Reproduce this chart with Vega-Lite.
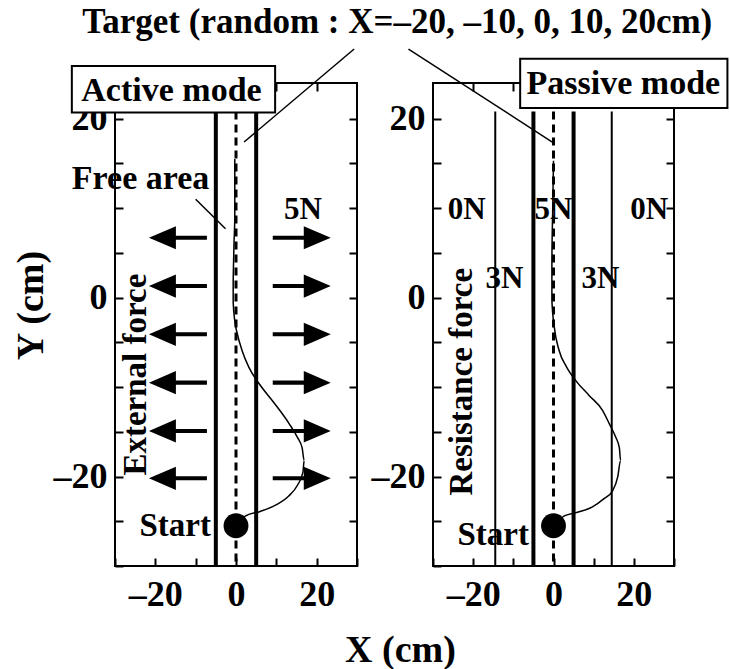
{
  "$schema": "https://vega.github.io/schema/vega-lite/v6.json",
  "autosize": "none",
  "padding": {"left": 115, "top": 83, "right": 615, "bottom": 586},
  "title": {"text": "Target (random : X=–20, –10, 0, 10, 20cm)", "font": "Liberation Serif", "fontSize": 35, "fontWeight": "bold", "color": "black", "anchor": "middle", "offset": 7, "dx": 27},
  "spacing": 76,
  "bounds": "flush",
  "config": {
    "view": {"stroke": "black", "strokeWidth": 2, "fill": null},
    "axis": {"domain": false, "grid": false, "ticks": true, "tickColor": "black", "tickWidth": 2, "tickSize": -8, "labelFont": "Liberation Serif", "labelFontWeight": "bold", "labelFontSize": 36, "labelColor": "black", "labelOverlap": false, "labelFlush": false, "titleFont": "Liberation Serif", "titleFontWeight": "bold", "titleFontSize": 38, "titleColor": "black"},
    "axisX": {"labelPadding": 19},
    "axisY": {"labelPadding": 16},
    "text": {"font": "Liberation Serif", "fontWeight": "bold", "color": "black"}
  },
  "hconcat": [
    {
      "width": 242,
      "height": 483,
      "resolve": {"axis": {"x": "independent", "y": "independent"}},
      "layer": [
        {
          "layer": [
            {
              "data": {"values": [{"x": -5, "y": 20.8, "y2": -30}, {"x": 5, "y": 20.8, "y2": -30}]},
              "mark": {"type": "rule", "strokeWidth": 4, "color": "black"},
              "encoding": {
                "x": {"field": "x", "type": "quantitative", "scale": {"domain": [-30, 30], "nice": false, "zero": false},
                  "axis": {"values": [-30, -20, -10, 0, 10, 20, 30], "labelExpr": "datum.value == -20 ? '–20' : (datum.value == 0 || datum.value == 20) ? datum.label : ''", "title": "X (cm)", "titleX": 285, "titleY": 95, "titleBaseline": "alphabetic", "titleAlign": "center"}},
                "y": {"field": "y", "type": "quantitative", "scale": {"domain": [-30, 24], "nice": false, "zero": false},
                  "axis": {"values": [-30, -25, -20, -15, -10, -5, 0, 5, 10, 15, 20], "labelExpr": "datum.value == -20 ? '–20' : (datum.value == 0 || datum.value == 20) ? datum.label : ''", "title": "Y (cm)", "titleX": -84, "titleY": 222, "titleAngle": 270, "titleBaseline": "middle", "titleAlign": "center"}},
                "y2": {"field": "y2"}
              }
            },
            {
              "data": {"values": [{"x": 0, "y": 20.8, "y2": -30}]},
              "mark": {"type": "rule", "strokeWidth": 3, "strokeDash": [8, 5], "color": "black"},
              "encoding": {"x": {"field": "x", "type": "quantitative"}, "y": {"field": "y", "type": "quantitative"}, "y2": {"field": "y2"}}
            },
            {
              "data": {"values": [
                {"i": 0, "x": 0, "y": -25.5}, {"i": 1, "x": 2.4, "y": -24.4}, {"i": 2, "x": 6, "y": -23.9}, {"i": 3, "x": 9.8, "y": -23.2},
                {"i": 4, "x": 13, "y": -22.2}, {"i": 5, "x": 15.2, "y": -21.0}, {"i": 6, "x": 16.6, "y": -19.5}, {"i": 7, "x": 16.9, "y": -18.2},
                {"i": 8, "x": 16.4, "y": -16.8}, {"i": 9, "x": 15.2, "y": -15.6}, {"i": 10, "x": 13.2, "y": -14.1}, {"i": 11, "x": 9.5, "y": -11.8},
                {"i": 12, "x": 5.7, "y": -9.6}, {"i": 13, "x": 3.2, "y": -7.8}, {"i": 14, "x": 1.5, "y": -5.9}, {"i": 15, "x": 0.3, "y": -4.0},
                {"i": 16, "x": -0.3, "y": -2.6}, {"i": 17, "x": -0.7, "y": -0.5}, {"i": 18, "x": -0.7, "y": 1.5}, {"i": 19, "x": -0.6, "y": 4},
                {"i": 20, "x": -0.5, "y": 6}, {"i": 21, "x": -0.3, "y": 9}, {"i": 22, "x": -0.3, "y": 12}, {"i": 23, "x": -0.3, "y": 15.5}
              ]},
              "mark": {"type": "line", "strokeWidth": 1.5, "color": "black", "interpolate": "monotone"},
              "encoding": {"x": {"field": "x", "type": "quantitative"}, "y": {"field": "y", "type": "quantitative"}, "order": {"field": "i"}}
            },
            {
              "data": {"values": [{"x": 0, "y": -25.5}]},
              "mark": {"type": "point", "filled": true, "size": 620, "color": "black", "opacity": 1},
              "encoding": {"x": {"field": "x", "type": "quantitative"}, "y": {"field": "y", "type": "quantitative"}}
            },
            {
              "data": {"values": [{"x": -14.4, "y": 6.7}, {"x": -14.4, "y": 1.3}, {"x": -14.4, "y": -4.1}, {"x": -14.4, "y": -9.5}, {"x": -14.4, "y": -14.9}, {"x": -14.4, "y": -20.2}]},
              "mark": {"type": "point", "shape": "M-1,0L-0.07,-0.4L-0.07,-0.07L1,-0.07L1,0.07L-0.07,0.07L-0.07,0.4Z", "filled": true, "size": 3364, "color": "black", "opacity": 1, "strokeWidth": 0},
              "encoding": {"x": {"field": "x", "type": "quantitative"}, "y": {"field": "y", "type": "quantitative"}}
            },
            {
              "data": {"values": [{"x": 16.3, "y": 6.7}, {"x": 16.3, "y": 1.3}, {"x": 16.3, "y": -4.1}, {"x": 16.3, "y": -9.5}, {"x": 16.3, "y": -14.9}, {"x": 16.3, "y": -20.2}]},
              "mark": {"type": "point", "shape": "M1,0L0.07,-0.4L0.07,-0.07L-1,-0.07L-1,0.07L0.07,0.07L0.07,0.4Z", "filled": true, "size": 3364, "color": "black", "opacity": 1, "strokeWidth": 0},
              "encoding": {"x": {"field": "x", "type": "quantitative"}, "y": {"field": "y", "type": "quantitative"}}
            },
            {
              "data": {"values": [{"x": -10, "y": 11, "x2": -2.6, "y2": 7.7}, {"x": 29.3, "y": 27.8, "x2": 2.0, "y2": 17.4}]},
              "mark": {"type": "rule", "strokeWidth": 1.5, "color": "black"},
              "encoding": {"x": {"field": "x", "type": "quantitative"}, "y": {"field": "y", "type": "quantitative"}, "x2": {"field": "x2"}, "y2": {"field": "y2"}}
            },
            {
              "data": {"values": [{"t": "5N", "x": 16.6, "y": 8.8}]},
              "mark": {"type": "text", "fontSize": 31, "align": "center", "baseline": "alphabetic"},
              "encoding": {"x": {"field": "x", "type": "quantitative"}, "y": {"field": "y", "type": "quantitative"}, "text": {"field": "t"}}
            },
            {
              "data": {"values": [{"t": "Free area", "x": -40.7, "y": 12.2}]},
              "mark": {"type": "text", "fontSize": 34, "align": "left", "baseline": "alphabetic"},
              "encoding": {"x": {"field": "x", "type": "quantitative"}, "y": {"field": "y", "type": "quantitative"}, "text": {"field": "t"}}
            },
            {
              "data": {"values": [{"t": "Start", "x": -6.2, "y": -26.6}]},
              "mark": {"type": "text", "fontSize": 33, "align": "right", "baseline": "alphabetic"},
              "encoding": {"x": {"field": "x", "type": "quantitative"}, "y": {"field": "y", "type": "quantitative"}, "text": {"field": "t"}}
            },
            {
              "data": {"values": [{"t": "External force", "x": -24.8, "y": -8.6}]},
              "mark": {"type": "text", "fontSize": 33, "align": "center", "baseline": "middle", "angle": 270},
              "encoding": {"x": {"field": "x", "type": "quantitative"}, "y": {"field": "y", "type": "quantitative"}, "text": {"field": "t"}}
            },
            {
              "data": {"values": [{"x": -40.7, "x2": 9.7, "y": 25.9, "y2": 20.7}]},
              "mark": {"type": "rect", "fill": "white", "stroke": "black", "strokeWidth": 2},
              "encoding": {"x": {"field": "x", "type": "quantitative"}, "x2": {"field": "x2"}, "y": {"field": "y", "type": "quantitative"}, "y2": {"field": "y2"}}
            },
            {
              "data": {"values": [{"t": "Active mode", "x": -16, "y": 22.0}]},
              "mark": {"type": "text", "fontSize": 34, "align": "center", "baseline": "alphabetic"},
              "encoding": {"x": {"field": "x", "type": "quantitative"}, "y": {"field": "y", "type": "quantitative"}, "text": {"field": "t"}}
            }
          ]
        },
        {
          "data": {"values": [{"x": 0, "y": 0}]},
          "mark": {"type": "point", "opacity": 0},
          "encoding": {
            "x": {"field": "x", "type": "quantitative", "scale": {"domain": [-30, 30], "nice": false, "zero": false}, "axis": {"orient": "top", "values": [-20, -10, 0, 10, 20], "labels": false, "title": null}},
            "y": {"field": "y", "type": "quantitative", "scale": {"domain": [-30, 24], "nice": false, "zero": false}, "axis": {"orient": "right", "values": [-25, -20, -15, -10, -5, 0, 5, 10, 15, 20], "labels": false, "title": null}}
          }
        }
      ]
    },
    {
      "width": 241,
      "height": 483,
      "resolve": {"axis": {"x": "independent", "y": "independent"}},
      "layer": [
        {
          "layer": [
            {
              "data": {"values": [{"x": -14.5, "y": 20.8, "y2": -30}, {"x": 14.5, "y": 20.8, "y2": -30}]},
              "mark": {"type": "rule", "strokeWidth": 2, "color": "black"},
              "encoding": {
                "x": {"field": "x", "type": "quantitative", "scale": {"domain": [-30, 30], "nice": false, "zero": false},
                  "axis": {"values": [-30, -20, -10, 0, 10, 20, 30], "labelExpr": "datum.value == -20 ? '–20' : (datum.value == 0 || datum.value == 20) ? datum.label : ''", "title": null}},
                "y": {"field": "y", "type": "quantitative", "scale": {"domain": [-30, 24], "nice": false, "zero": false},
                  "axis": {"values": [-30, -25, -20, -15, -10, -5, 0, 5, 10, 15, 20], "labelExpr": "datum.value == -20 ? '–20' : (datum.value == 0 || datum.value == 20) ? datum.label : ''", "title": null}},
                "y2": {"field": "y2"}
              }
            },
            {
              "data": {"values": [{"x": -5, "y": 20.8, "y2": -30}, {"x": 5, "y": 20.8, "y2": -30}]},
              "mark": {"type": "rule", "strokeWidth": 4, "color": "black"},
              "encoding": {"x": {"field": "x", "type": "quantitative"}, "y": {"field": "y", "type": "quantitative"}, "y2": {"field": "y2"}}
            },
            {
              "data": {"values": [{"x": 0, "y": 20.8, "y2": -30}]},
              "mark": {"type": "rule", "strokeWidth": 3, "strokeDash": [8, 5], "color": "black"},
              "encoding": {"x": {"field": "x", "type": "quantitative"}, "y": {"field": "y", "type": "quantitative"}, "y2": {"field": "y2"}}
            },
            {
              "data": {"values": [
                {"i": 0, "x": 0, "y": -25.5}, {"i": 1, "x": 2.7, "y": -24.4}, {"i": 2, "x": 6, "y": -24.0}, {"i": 3, "x": 9.7, "y": -23.4},
                {"i": 4, "x": 12.5, "y": -22.5}, {"i": 5, "x": 14.7, "y": -21.6}, {"i": 6, "x": 16.0, "y": -20.0}, {"i": 7, "x": 16.7, "y": -18.2},
                {"i": 8, "x": 16.4, "y": -16.8}, {"i": 9, "x": 15.5, "y": -15.6}, {"i": 10, "x": 14.0, "y": -14.2}, {"i": 11, "x": 12.2, "y": -12.6},
                {"i": 12, "x": 8.8, "y": -10.9}, {"i": 13, "x": 5.6, "y": -9.3}, {"i": 14, "x": 3.2, "y": -7.7}, {"i": 15, "x": 1.4, "y": -5.9},
                {"i": 16, "x": 0.2, "y": -3.3}, {"i": 17, "x": -0.4, "y": -0.3}, {"i": 18, "x": -0.4, "y": 4.1}, {"i": 19, "x": -0.2, "y": 9.7},
                {"i": 20, "x": 0, "y": 15.3}
              ]},
              "mark": {"type": "line", "strokeWidth": 1.5, "color": "black", "interpolate": "monotone"},
              "encoding": {"x": {"field": "x", "type": "quantitative"}, "y": {"field": "y", "type": "quantitative"}, "order": {"field": "i"}}
            },
            {
              "data": {"values": [{"x": 0, "y": -25.5}]},
              "mark": {"type": "point", "filled": true, "size": 620, "color": "black", "opacity": 1},
              "encoding": {"x": {"field": "x", "type": "quantitative"}, "y": {"field": "y", "type": "quantitative"}}
            },
            {
              "data": {"values": [{"x": -36.1, "y": 27.8, "x2": -0.3, "y2": 17.4}]},
              "mark": {"type": "rule", "strokeWidth": 1.5, "color": "black"},
              "encoding": {"x": {"field": "x", "type": "quantitative"}, "y": {"field": "y", "type": "quantitative"}, "x2": {"field": "x2"}, "y2": {"field": "y2"}}
            },
            {
              "data": {"values": [{"t": "0N", "x": -21.6, "y": 8.8}, {"t": "5N", "x": 0, "y": 8.8}, {"t": "0N", "x": 23.8, "y": 8.8}, {"t": "3N", "x": -12.2, "y": 1.1}, {"t": "3N", "x": 11.7, "y": 1.1}]},
              "mark": {"type": "text", "fontSize": 31, "align": "center", "baseline": "alphabetic"},
              "encoding": {"x": {"field": "x", "type": "quantitative"}, "y": {"field": "y", "type": "quantitative"}, "text": {"field": "t"}}
            },
            {
              "data": {"values": [{"t": "Start", "x": -6.1, "y": -27.7}]},
              "mark": {"type": "text", "fontSize": 33, "align": "right", "baseline": "alphabetic"},
              "encoding": {"x": {"field": "x", "type": "quantitative"}, "y": {"field": "y", "type": "quantitative"}, "text": {"field": "t"}}
            },
            {
              "data": {"values": [{"t": "Resistance force", "x": -22.8, "y": -9.4}]},
              "mark": {"type": "text", "fontSize": 33, "align": "center", "baseline": "middle", "angle": 270},
              "encoding": {"x": {"field": "x", "type": "quantitative"}, "y": {"field": "y", "type": "quantitative"}, "text": {"field": "t"}}
            },
            {
              "data": {"values": [{"x": -8.3, "x2": 43.3, "y": 26.7, "y2": 21.2}]},
              "mark": {"type": "rect", "fill": "white", "stroke": "black", "strokeWidth": 2},
              "encoding": {"x": {"field": "x", "type": "quantitative"}, "x2": {"field": "x2"}, "y": {"field": "y", "type": "quantitative"}, "y2": {"field": "y2"}}
            },
            {
              "data": {"values": [{"t": "Passive mode", "x": 17.4, "y": 22.8}]},
              "mark": {"type": "text", "fontSize": 34, "align": "center", "baseline": "alphabetic"},
              "encoding": {"x": {"field": "x", "type": "quantitative"}, "y": {"field": "y", "type": "quantitative"}, "text": {"field": "t"}}
            }
          ]
        },
        {
          "data": {"values": [{"x": 0, "y": 0}]},
          "mark": {"type": "point", "opacity": 0},
          "encoding": {
            "x": {"field": "x", "type": "quantitative", "scale": {"domain": [-30, 30], "nice": false, "zero": false}, "axis": {"orient": "top", "values": [-20, -10, 0, 10, 20], "labels": false, "title": null}},
            "y": {"field": "y", "type": "quantitative", "scale": {"domain": [-30, 24], "nice": false, "zero": false}, "axis": {"orient": "right", "values": [-25, -20, -15, -10, -5, 0, 5, 10, 15, 20], "labels": false, "title": null}}
          }
        }
      ]
    }
  ]
}
